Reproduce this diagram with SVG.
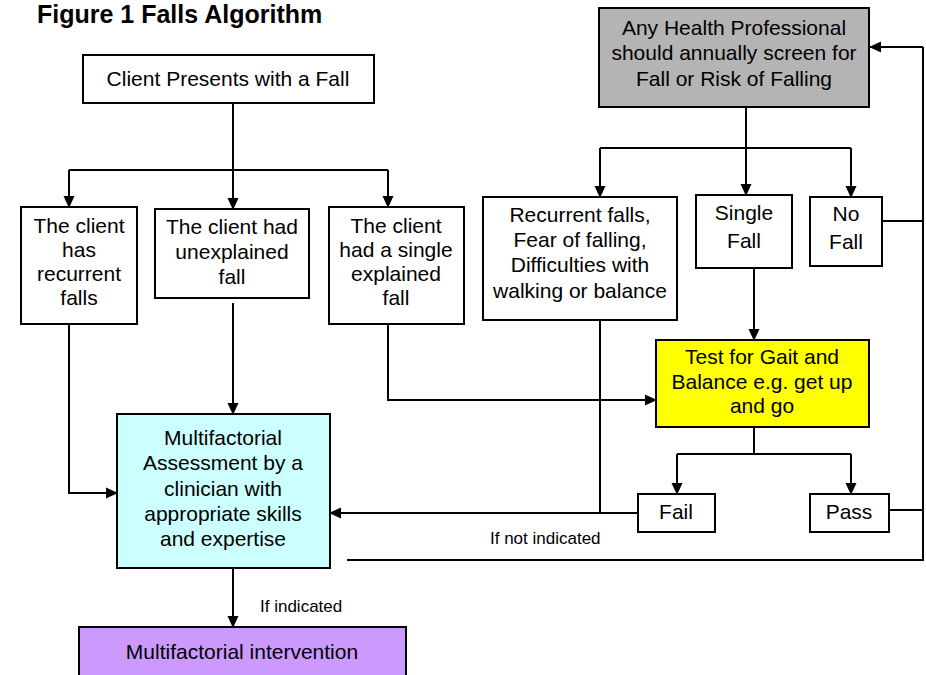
<svg xmlns="http://www.w3.org/2000/svg" width="926" height="675" viewBox="0 0 926 675">
<defs>
<marker id="ah" markerUnits="userSpaceOnUse" markerWidth="12" markerHeight="12" viewBox="0 0 12 12" refX="11" refY="6" orient="auto">
<path d="M0,0.5 L12,6 L0,11.5 Z" fill="#000"/>
</marker>
<style>
.box{stroke:#000;stroke-width:2;fill:#fff}
.t{font-family:"Liberation Sans",Arial,sans-serif;font-size:21px;fill:#000;text-anchor:middle}
.s{font-family:"Liberation Sans",Arial,sans-serif;font-size:17px;fill:#000}
.c{fill:none;stroke:#000;stroke-width:2}
.a{fill:none;stroke:#000;stroke-width:2;marker-end:url(#ah)}
</style>
</defs>
<rect width="926" height="675" fill="#fff"/>
<text x="37" y="23" font-family="'Liberation Sans',Arial,sans-serif" font-size="25" font-weight="bold">Figure 1 Falls Algorithm</text>

<g id="connectors">
<path class="c" d="M233,103 V170 M69,170 H388"/>
<path class="a" d="M69,170 V207"/>
<path class="a" d="M233,170 V209"/>
<path class="a" d="M388,170 V207"/>
<path class="a" d="M69,324 V493 H117"/>
<path class="a" d="M233,303 V414"/>
<path class="a" d="M388,324 V400 H656"/>
<path class="c" d="M746,107 V148 M600,148 H851"/>
<path class="a" d="M600,148 V197"/>
<path class="a" d="M746,148 V195"/>
<path class="a" d="M851,148 V197"/>
<path class="a" d="M754,268 V340"/>
<path class="c" d="M600,320 V513"/>
<path class="c" d="M754,427 V454 M677,454 H851"/>
<path class="a" d="M677,454 V494"/>
<path class="a" d="M851,454 V494"/>
<path class="a" d="M638,513 H330"/>
<path class="c" d="M889,510 H923"/>
<path class="c" d="M882,221 H923"/>
<path class="c" d="M347,560 H923 V47"/>
<path class="a" d="M923,47 H870"/>
<path class="a" d="M233,568 V627"/>
</g>

<g id="client-presents">
<rect class="box" x="83" y="55" width="291" height="48"/>
<text class="t" x="228" y="86">Client Presents with a Fall</text>
</g>

<g id="recurrent-client">
<rect class="box" x="21" y="207" width="116" height="117"/>
<text class="t" x="79" y="233">The client</text>
<text class="t" x="79" y="257">has</text>
<text class="t" x="79" y="281">recurrent</text>
<text class="t" x="79" y="305">falls</text>
</g>

<g id="unexplained-client">
<rect class="box" x="155" y="209" width="154" height="89"/>
<text class="t" x="232" y="234">The client had</text>
<text class="t" x="232" y="259">unexplained</text>
<text class="t" x="232" y="284">fall</text>
</g>

<g id="single-explained-client">
<rect class="box" x="329" y="207" width="135" height="117"/>
<text class="t" x="396" y="233">The client</text>
<text class="t" x="396" y="257">had a single</text>
<text class="t" x="396" y="281">explained</text>
<text class="t" x="396" y="305">fall</text>
</g>

<g id="health-professional">
<rect class="box" x="599" y="8" width="270" height="99" style="fill:#b4b4b4"/>
<text class="t" x="734" y="35">Any Health Professional</text>
<text class="t" x="734" y="60">should annually screen for</text>
<text class="t" x="734" y="86">Fall or Risk of Falling</text>
</g>

<g id="recurrent-fear">
<rect class="box" x="483" y="197" width="194" height="123"/>
<text class="t" x="580" y="222">Recurrent falls,</text>
<text class="t" x="580" y="247">Fear of falling,</text>
<text class="t" x="580" y="272">Difficulties with</text>
<text class="t" x="580" y="298">walking or balance</text>
</g>

<g id="single-fall">
<rect class="box" x="696" y="195" width="96" height="73"/>
<text class="t" x="744" y="220">Single</text>
<text class="t" x="744" y="248">Fall</text>
</g>

<g id="no-fall">
<rect class="box" x="810" y="197" width="72" height="69"/>
<text class="t" x="846" y="221">No</text>
<text class="t" x="846" y="249">Fall</text>
</g>

<g id="gait-test">
<rect class="box" x="656" y="340" width="213" height="87" style="fill:#ffff00"/>
<text class="t" x="762" y="364">Test for Gait and</text>
<text class="t" x="762" y="389">Balance e.g. get up</text>
<text class="t" x="762" y="413">and go</text>
</g>

<g id="fail">
<rect class="box" x="638" y="494" width="77" height="38"/>
<text class="t" x="676" y="519">Fail</text>
</g>

<g id="pass">
<rect class="box" x="810" y="494" width="79" height="38"/>
<text class="t" x="849" y="519">Pass</text>
</g>

<g id="multifactorial-assessment">
<rect class="box" x="117" y="414" width="213" height="154" style="fill:#ccffff"/>
<text class="t" x="223" y="445">Multifactorial</text>
<text class="t" x="223" y="470">Assessment by a</text>
<text class="t" x="223" y="496">clinician with</text>
<text class="t" x="223" y="521">appropriate skills</text>
<text class="t" x="223" y="546">and expertise</text>
</g>

<g id="multifactorial-intervention">
<rect class="box" x="79" y="627" width="327" height="60" style="fill:#cc99ff"/>
<text class="t" x="242" y="659">Multifactorial intervention</text>
</g>

<g id="labels">
<text class="s" x="260" y="612">If indicated</text>
<text class="s" x="490" y="544">If not indicated</text>
</g>
</svg>
